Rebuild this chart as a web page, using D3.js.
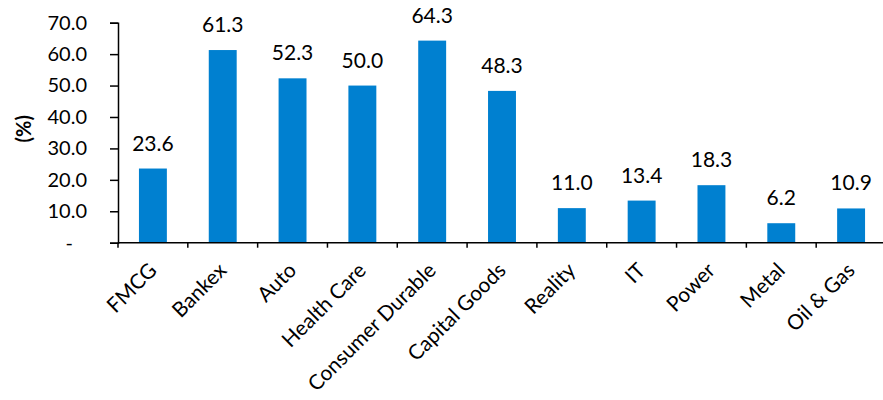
<!DOCTYPE html>
<html>
<head>
<meta charset="utf-8">
<script src="https://cdn.jsdelivr.net/npm/d3@7"></script>
<style>
  html, body { margin: 0; padding: 0; background: #fff; }
  svg { display: block; }
  text { font-family: Lato, "Open Sans", sans-serif; fill: #000; }
</style>
</head>
<body>
<svg id="chart" width="883" height="400"></svg>
<script>
// Sector returns (%)
const categories = ["FMCG", "Bankex", "Auto", "Health Care", "Consumer Durable",
  "Capital Goods", "Reality", "IT", "Power", "Metal", "Oil & Gas"];
const values = [23.6, 61.3, 52.3, 50.0, 64.3, 48.3, 11.0, 13.4, 18.3, 6.2, 10.9];
const yTicks = [0, 10, 20, 30, 40, 50, 60, 70];
const yAxisTitle = "(%)";

const svg = d3.select("#chart");
const plotLeft = 118, plotRight = 886, plotTop = 22.7, plotBottom = 242.7;
const axisFont = 20, labelFont = 21, catFont = 20.8;

const x = d3.scaleBand()
  .domain(categories)
  .range([plotLeft, plotRight])
  .paddingInner(0.6)
  .paddingOuter(0.3);

const y = d3.scaleLinear().domain([0, 70]).range([plotBottom, plotTop]);

// bars
svg.append("g").selectAll("rect")
  .data(values)
  .join("rect")
  .attr("x", (d, i) => x(categories[i]))
  .attr("width", x.bandwidth())
  .attr("y", d => y(d))
  .attr("height", d => y(0) - y(d))
  .attr("fill", "#0080d0");

// value labels
svg.append("g").selectAll("text")
  .data(values)
  .join("text")
  .attr("x", (d, i) => x(categories[i]) + x.bandwidth() / 2)
  .attr("y", d => y(d) - 18)
  .attr("text-anchor", "middle")
  .style("font-size", labelFont + "px")
  .text(d => d.toFixed(1));

// y axis
const yAxis = svg.append("g")
  .attr("transform", `translate(${plotLeft},0)`)
  .call(d3.axisLeft(y).tickValues(yTicks).tickSize(8).tickPadding(23)
    .tickFormat(d => d === 0 ? "-" : d.toFixed(1)));
yAxis.select(".domain").attr("stroke", "#000").attr("stroke-width", 1.5);
yAxis.selectAll(".tick line").attr("stroke", "#000").attr("stroke-width", 1.5);
yAxis.selectAll(".tick text")
  .style("font-size", axisFont + "px")
  .style("font-family", "Lato, 'Open Sans', sans-serif")
  .attr("fill", "#000")
  .attr("dx", (d) => d === 0 ? -14 : 0);

// x axis with ticks at category boundaries
const xg = svg.append("g");
xg.append("line")
  .attr("x1", plotLeft).attr("x2", plotRight)
  .attr("y1", plotBottom).attr("y2", plotBottom)
  .attr("stroke", "#000").attr("stroke-width", 1.5);
const step = x.step();
const bounds = d3.range(categories.length + 1).map(i => plotLeft + i * step);
xg.selectAll("line.tick")
  .data(bounds)
  .join("line")
  .attr("class", "tick")
  .attr("x1", d => d).attr("x2", d => d)
  .attr("y1", plotBottom).attr("y2", plotBottom + 5)
  .attr("stroke", "#000").attr("stroke-width", 1.5);

xg.selectAll("text")
  .data(categories)
  .join("text")
  .attr("text-anchor", "end")
  .attr("transform", d => `translate(${x(d) + x.bandwidth() / 2 + 5},${plotBottom + 29}) rotate(-45)`)
  .style("font-size", catFont + "px")
  .text(d => d);

// y axis title
svg.append("text")
  .attr("transform", `translate(31,${(plotTop + plotBottom) / 2 - 4}) rotate(-90)`)
  .attr("text-anchor", "middle")
  .style("font-size", axisFont + "px")
  .style("font-weight", "bold")
  .text(yAxisTitle);
</script>
</body>
</html>
